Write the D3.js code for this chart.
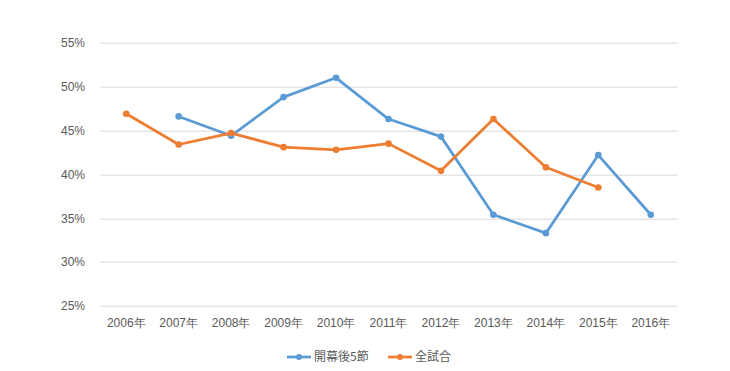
<!DOCTYPE html>
<html>
<head>
<meta charset="utf-8">
<script src="https://cdn.jsdelivr.net/npm/d3@7"></script>
<style>
  body { margin: 0; background: #fff; }
  svg { font-family: "Noto Sans CJK JP", "Noto Sans", sans-serif; }
</style>
</head>
<body>
<svg id="chart" width="730" height="371"></svg>
<script>
let years = ["2006年", "2007年", "2008年", "2009年", "2010年", "2011年", "2012年", "2013年", "2014年", "2015年", "2016年"];
let first5 = [null, 46.6, 44.4, 48.8, 51.0, 46.3, 44.3, 35.4, 33.3, 42.2, 35.4];
let allGames = [46.9, 43.4, 44.7, 43.1, 42.8, 43.5, 40.4, 46.3, 40.8, 38.5, null];
let yTicks = [25, 30, 35, 40, 45, 50, 55];
let seriesNames = ["開幕後5節", "全試合"];
let colors = ["#5B9BD5", "#ED7D31"];

let svg = d3.select("#chart");

let margin = { top: 42.7, left: 100, right: 53, bottom: 65 };
let plotWidth = 730 - margin.left - margin.right;
let plotHeight = 371 - margin.top - margin.bottom;

let x = d3.scaleBand()
  .domain(years)
  .range([0, plotWidth]);

let y = d3.scaleLinear()
  .domain([25, 55])
  .range([plotHeight, 0]);

let plot = svg.append("g")
  .attr("transform", "translate(" + margin.left + "," + margin.top + ")");

// gridlines
plot.append("g")
  .selectAll("line")
  .data(yTicks)
  .join("line")
    .attr("x1", 0)
    .attr("x2", plotWidth)
    .attr("y1", d => Math.round(y(d)) + 0.5)
    .attr("y2", d => Math.round(y(d)) + 0.5)
    .attr("stroke", "#d9d9d9")
    .attr("stroke-width", 1);

// y axis labels
let yAxis = d3.axisLeft(y).tickValues(yTicks).tickFormat(d => d + "%").tickSize(0).tickPadding(15);
let yGroup = plot.append("g").call(yAxis);
yGroup.select(".domain").remove();
yGroup.selectAll("text").attr("fill", "#595959").style("font-size", "12px");

// x axis labels
let xAxis = d3.axisBottom(x).tickSize(0).tickPadding(12);
let xGroup = plot.append("g")
  .attr("transform", "translate(0," + plotHeight + ")")
  .call(xAxis);
xGroup.select(".domain").remove();
xGroup.selectAll("text").attr("fill", "#595959").style("font-size", "12px");

let line = d3.line()
  .defined(d => d != null)
  .x((d, i) => x(years[i]) + x.bandwidth() / 2)
  .y(d => y(d));

[first5, allGames].forEach((vals, s) => {
  plot.append("path")
    .datum(vals)
    .attr("fill", "none")
    .attr("stroke", colors[s])
    .attr("stroke-width", 2.75)
    .attr("stroke-linejoin", "round")
    .attr("d", line);

  plot.append("g")
    .selectAll("circle")
    .data(vals.map((v, i) => [v, i]).filter(d => d[0] != null))
    .join("circle")
      .attr("cx", d => x(years[d[1]]) + x.bandwidth() / 2)
      .attr("cy", d => y(d[0]))
      .attr("r", 3.3)
      .attr("fill", colors[s]);
});

// legend
let legend = svg.append("g").attr("transform", "translate(287,357)");
let legendX = [0, 101];
seriesNames.forEach((name, s) => {
  let g = legend.append("g").attr("transform", "translate(" + legendX[s] + ",0)");
  g.append("line")
    .attr("x1", 0).attr("x2", 24)
    .attr("y1", 0).attr("y2", 0)
    .attr("stroke", colors[s])
    .attr("stroke-width", 2.75);
  g.append("circle")
    .attr("cx", 12).attr("cy", 0).attr("r", 3)
    .attr("fill", colors[s]);
  g.append("text")
    .attr("x", 27)
    .attr("y", 0)
    .attr("dy", "0.35em")
    .attr("fill", "#595959")
    .style("font-size", "12px")
    .text(name);
});
</script>
</body>
</html>
